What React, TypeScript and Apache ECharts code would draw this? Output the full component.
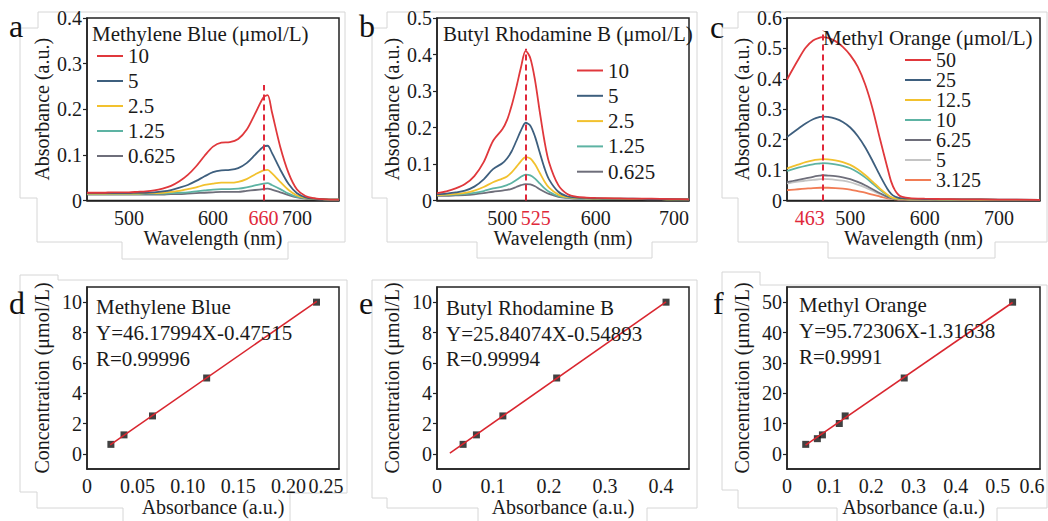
import React, { useEffect, useRef } from 'react';
import * as echarts from 'echarts';

const FONT = 'Liberation Serif';
const INK = '#1a1a1a';
const C_RED = '#e0383c';
const C_BLUE = '#3e5f7e';
const C_YEL = '#f2c12e';
const C_TEAL = '#5db3a3';
const C_GRAY = '#6e6e7a';
const C_LGRAY = '#c4c4c4';
const C_ORANGE = '#f17c55';
const C_DASH = '#e0283a';
const C_FIT = '#d9262f';

// ---------- panel a : Methylene Blue spectra ----------
const wlA = [450, 460, 470, 480, 490, 500, 510, 520, 530, 540, 550, 560, 570, 580, 590, 600, 610, 620, 630, 640, 650, 660, 665, 670, 680, 690, 700, 710, 720, 730, 740, 750];
const absA10 = [0.017, 0.017, 0.017, 0.018, 0.018, 0.018, 0.019, 0.020, 0.022, 0.026, 0.032, 0.042, 0.056, 0.075, 0.098, 0.118, 0.127, 0.128, 0.135, 0.155, 0.190, 0.226, 0.231, 0.195, 0.118, 0.060, 0.024, 0.010, 0.005, 0.003, 0.002, 0.002];
const absA5 = [0.016, 0.016, 0.016, 0.016, 0.016, 0.016, 0.017, 0.017, 0.018, 0.020, 0.023, 0.028, 0.034, 0.043, 0.053, 0.062, 0.066, 0.067, 0.071, 0.082, 0.100, 0.118, 0.120, 0.105, 0.068, 0.036, 0.016, 0.007, 0.004, 0.003, 0.002, 0.002];
const absA25 = [0.015, 0.015, 0.015, 0.015, 0.015, 0.015, 0.015, 0.016, 0.016, 0.017, 0.019, 0.021, 0.025, 0.029, 0.034, 0.037, 0.039, 0.039, 0.041, 0.047, 0.057, 0.066, 0.067, 0.060, 0.041, 0.023, 0.011, 0.006, 0.004, 0.003, 0.002, 0.002];
const absA125 = [0.014, 0.014, 0.014, 0.014, 0.014, 0.014, 0.014, 0.015, 0.015, 0.015, 0.016, 0.017, 0.018, 0.020, 0.022, 0.024, 0.025, 0.025, 0.026, 0.029, 0.033, 0.037, 0.038, 0.034, 0.025, 0.015, 0.008, 0.005, 0.003, 0.003, 0.002, 0.002];
const absA0625 = [0.013, 0.013, 0.013, 0.013, 0.013, 0.013, 0.013, 0.013, 0.013, 0.013, 0.014, 0.014, 0.015, 0.016, 0.017, 0.018, 0.019, 0.019, 0.019, 0.021, 0.023, 0.025, 0.026, 0.024, 0.018, 0.012, 0.007, 0.004, 0.003, 0.002, 0.002, 0.002];
const peakA = 660;
const dashTopA = 0.253;
const labelsA = ['10', '5', '2.5', '1.25', '0.625'];

// ---------- panel b : Butyl Rhodamine B spectra ----------
const wlB = [430, 440, 450, 460, 470, 480, 490, 500, 505, 510, 515, 520, 525, 530, 535, 540, 545, 550, 560, 570, 580, 590, 600, 620, 640, 660, 680, 700];
const absB10 = [0.020, 0.025, 0.033, 0.045, 0.067, 0.105, 0.163, 0.195, 0.220, 0.260, 0.310, 0.365, 0.410, 0.390, 0.330, 0.245, 0.165, 0.105, 0.042, 0.017, 0.010, 0.008, 0.007, 0.006, 0.005, 0.005, 0.004, 0.003];
const absB5 = [0.017, 0.019, 0.022, 0.027, 0.038, 0.058, 0.086, 0.102, 0.115, 0.135, 0.163, 0.192, 0.213, 0.205, 0.175, 0.132, 0.090, 0.058, 0.024, 0.011, 0.008, 0.007, 0.006, 0.005, 0.005, 0.004, 0.004, 0.003];
const absB25 = [0.015, 0.016, 0.018, 0.021, 0.027, 0.037, 0.050, 0.060, 0.066, 0.077, 0.092, 0.108, 0.119, 0.115, 0.099, 0.076, 0.053, 0.035, 0.016, 0.009, 0.007, 0.006, 0.005, 0.005, 0.004, 0.004, 0.003, 0.003];
const absB125 = [0.014, 0.015, 0.016, 0.018, 0.021, 0.026, 0.033, 0.038, 0.042, 0.048, 0.056, 0.065, 0.071, 0.069, 0.060, 0.047, 0.034, 0.024, 0.012, 0.008, 0.006, 0.005, 0.005, 0.004, 0.004, 0.004, 0.003, 0.003];
const absB0625 = [0.013, 0.013, 0.014, 0.015, 0.017, 0.020, 0.024, 0.027, 0.029, 0.032, 0.037, 0.042, 0.045, 0.044, 0.039, 0.031, 0.024, 0.018, 0.010, 0.007, 0.005, 0.005, 0.004, 0.004, 0.004, 0.003, 0.003, 0.003];
const peakB = 525;
const dashTopB = 0.416;
const labelsB = ['10', '5', '2.5', '1.25', '0.625'];

// ---------- panel c : Methyl Orange spectra ----------
const wlC = [415, 420, 430, 440, 450, 460, 463, 470, 480, 490, 500, 510, 520, 530, 540, 550, 555, 560, 565, 570, 580, 600, 620, 650, 700, 755];
const absC50 = [0.397, 0.420, 0.463, 0.502, 0.526, 0.536, 0.537, 0.535, 0.524, 0.505, 0.478, 0.440, 0.382, 0.302, 0.202, 0.107, 0.062, 0.034, 0.018, 0.012, 0.008, 0.006, 0.005, 0.004, 0.003, 0.002];
const absC25 = [0.209, 0.218, 0.236, 0.253, 0.267, 0.275, 0.276, 0.275, 0.269, 0.258, 0.240, 0.212, 0.175, 0.130, 0.082, 0.038, 0.022, 0.013, 0.009, 0.007, 0.006, 0.005, 0.004, 0.004, 0.003, 0.002];
const absC125 = [0.105, 0.110, 0.118, 0.126, 0.132, 0.135, 0.136, 0.135, 0.132, 0.126, 0.117, 0.103, 0.084, 0.062, 0.039, 0.019, 0.011, 0.007, 0.006, 0.005, 0.004, 0.004, 0.003, 0.003, 0.002, 0.002];
const absC10 = [0.097, 0.101, 0.108, 0.114, 0.119, 0.122, 0.123, 0.122, 0.119, 0.114, 0.106, 0.093, 0.076, 0.056, 0.035, 0.017, 0.010, 0.006, 0.005, 0.005, 0.004, 0.004, 0.003, 0.003, 0.002, 0.002];
const absC625 = [0.060, 0.063, 0.068, 0.073, 0.078, 0.082, 0.083, 0.082, 0.080, 0.076, 0.070, 0.061, 0.050, 0.037, 0.024, 0.012, 0.008, 0.005, 0.004, 0.004, 0.004, 0.003, 0.003, 0.003, 0.002, 0.002];
const absC5 = [0.056, 0.058, 0.062, 0.065, 0.068, 0.070, 0.071, 0.070, 0.068, 0.065, 0.060, 0.052, 0.043, 0.032, 0.021, 0.011, 0.007, 0.005, 0.004, 0.004, 0.003, 0.003, 0.003, 0.002, 0.002, 0.002];
const absC3125 = [0.034, 0.035, 0.037, 0.039, 0.041, 0.042, 0.042, 0.042, 0.041, 0.039, 0.036, 0.031, 0.026, 0.019, 0.013, 0.007, 0.005, 0.004, 0.003, 0.003, 0.003, 0.003, 0.002, 0.002, 0.002, 0.002];
const peakC = 463;
const dashTopC = 0.56;
const labelsC = ['50', '25', '12.5', '10', '6.25', '5', '3.125'];

// ---------- calibration panels d, e, f ----------
const absD = [0.0237, 0.0367, 0.065, 0.1187, 0.2277];
const concD = [0.625, 1.25, 2.5, 5, 10];
const fitD = [[0.023, 0.587], [0.228, 10.054]];
const absE = [0.0466, 0.0704, 0.1176, 0.2137, 0.409];
const concE = [0.625, 1.25, 2.5, 5, 10];
const fitE = [[0.023, 0.045], [0.409, 10.02]];
const absF = [0.0444, 0.072, 0.084, 0.124, 0.138, 0.278, 0.535];
const concF = [3.125, 5, 6.25, 10, 12.5, 25, 50];
const fitF = [[0.044, 2.9], [0.535, 49.9]];

const textD = ['Methylene Blue', 'Y=46.17994X-0.47515', 'R=0.99996'];
const textE = ['Butyl Rhodamine B', 'Y=25.84074X-0.54893', 'R=0.99994'];
const textF = ['Methyl Orange', 'Y=95.72306X-1.31638', 'R=0.9991'];

const xTicksA = [500, 600, 660, 700];
const xTicksB = [500, 525, 600, 700];
const xTicksC = [463, 500, 600, 700];
const xTicksD = [0, 0.05, 0.1, 0.15, 0.2, 0.25];
const xTicksE = [0, 0.1, 0.2, 0.3, 0.4];
const xTicksF = [0, 0.1, 0.2, 0.3, 0.4, 0.5, 0.6];
const yTicksDE = [0, 2, 4, 6, 8, 10];
const yTicksF = [0, 10, 20, 30, 40, 50];

const zip = (xs: number[], ys: number[]) => xs.map((x, i) => [x, ys[i]]);

function buildOption() {
  const gridBase = { show: true, borderColor: '#222', borderWidth: 1.5, backgroundColor: 'transparent' };
  const grid = [
    { left: 87, top: 18, width: 252, height: 182.5 },
    { left: 437, top: 18, width: 252, height: 182.5 },
    { left: 787, top: 18, width: 253, height: 182.5 },
    { left: 87, top: 287, width: 252, height: 182 },
    { left: 437, top: 287, width: 252, height: 182 },
    { left: 787, top: 287, width: 253, height: 182 },
  ].map((g) => ({ ...gridBase, ...g }));

  const rich = {
    r: { color: C_DASH, fontSize: 20, fontFamily: FONT },
    rR: { color: C_DASH, fontSize: 20, fontFamily: FONT, padding: [0, 0, 0, 20] },
    rL: { color: C_DASH, fontSize: 20, fontFamily: FONT, padding: [0, 26, 0, 0] },
    s30: { color: INK, fontSize: 20, fontFamily: FONT, padding: [0, 30, 0, 0] },
    s26: { color: INK, fontSize: 20, fontFamily: FONT, padding: [0, 26, 0, 0] },
    s16: { color: INK, fontSize: 20, fontFamily: FONT, padding: [0, 16, 0, 0] },
  };

  const xBase = (i: number, min: number, max: number, ticks: number[], fmt: (v: number) => string, name: string) => ({
    type: 'value',
    gridIndex: i,
    min,
    max,
    name,
    nameLocation: 'middle',
    nameGap: 27.5,
    nameTextStyle: { color: INK, fontSize: 20, fontFamily: FONT },
    splitLine: { show: false },
    axisTick: { show: false },
    axisLine: { show: true, onZero: false, lineStyle: { color: '#222', width: 1.5 } },
    axisLabel: { color: INK, fontSize: 20, fontFamily: FONT, margin: 7, customValues: ticks, formatter: fmt, rich },
  });

  const yBase = (i: number, min: number, max: number, name: string, extra: any) => ({
    type: 'value',
    gridIndex: i,
    min,
    max,
    name,
    nameLocation: 'middle',
    nameGap: 35,
    nameTextStyle: { color: INK, fontSize: 20, fontFamily: FONT },
    splitLine: { show: false },
    axisLine: { show: true, onZero: false, lineStyle: { color: '#222', width: 1.5 } },
    axisTick: { show: true, inside: false, length: 4, lineStyle: { color: '#222', width: 1.2 }, ...(extra.tick || {}) },
    axisLabel: { color: INK, fontSize: 20, fontFamily: FONT, margin: 5, ...(extra.label || {}) },
    ...(extra.axis || {}),
  });

  const wlName = 'Wavelength (nm)';
  const absName = 'Absorbance (a.u.)';
  const concName = 'Concentration (μmol/L)';

  const xAxis = [
    xBase(0, 450, 750, xTicksA, (v) => (v === peakA ? `{r|${v}}` : String(v)), wlName),
    xBase(1, 430, 700, xTicksB, (v) => (v === peakB ? `{rR|${v}}` : v === 700 ? `{s30|${v}}` : String(v)), wlName),
    xBase(2, 415, 755, xTicksC, (v) => (v === peakC ? `{rL|${v}}` : String(v)), wlName),
    xBase(3, 0, 0.25, xTicksD, (v) => (v === 0 ? '0' : v === 0.25 ? `{s26|${v.toFixed(2)}}` : v.toFixed(2)), 'Absorbance (a.u.)'),
    xBase(4, 0, 0.45, xTicksE, (v) => (v === 0 ? '0' : String(v)), 'Absorbance (a.u.)'),
    xBase(5, 0, 0.6, xTicksF, (v) => (v === 0 ? '0' : v === 0.6 ? `{s16|${v}}` : String(v)), 'Absorbance (a.u.)'),
  ];

  const yAxis = [
    yBase(0, 0, 0.4, absName, { axis: { interval: 0.1 } }),
    yBase(1, 0, 0.5, absName, { axis: { interval: 0.1 } }),
    yBase(2, 0, 0.6, absName, { axis: { interval: 0.1 } }),
    yBase(3, -1, 11, concName, { label: { customValues: yTicksDE }, tick: { customValues: yTicksDE } }),
    yBase(4, -1, 11, concName, { label: { customValues: yTicksDE }, tick: { customValues: yTicksDE } }),
    yBase(5, -5, 55, concName, { label: { customValues: yTicksF }, tick: { customValues: yTicksF } }),
  ];

  const spec = (panel: string, idx: number, label: string, wl: number[], vals: number[], color: string, mark?: [number, number]) => ({
    type: 'line',
    name: `${panel}:${label}`,
    xAxisIndex: idx,
    yAxisIndex: idx,
    data: zip(wl, vals),
    showSymbol: false,
    symbol: 'none',
    smooth: 0.3,
    color,
    lineStyle: { color, width: 1.8 },
    ...(mark
      ? {
          markLine: {
            silent: true,
            symbol: ['none', 'none'],
            label: { show: false },
            lineStyle: { color: C_DASH, type: [6, 4], width: 2 },
            data: [[{ coord: [mark[0], 0] }, { coord: [mark[0], mark[1]] }]],
          },
        }
      : {}),
  });

  const series: any[] = [
    spec('a', 0, '0.625', wlA, absA0625, C_GRAY),
    spec('a', 0, '1.25', wlA, absA125, C_TEAL),
    spec('a', 0, '2.5', wlA, absA25, C_YEL),
    spec('a', 0, '5', wlA, absA5, C_BLUE),
    spec('a', 0, '10', wlA, absA10, C_RED, [peakA, dashTopA]),

    spec('b', 1, '0.625', wlB, absB0625, C_GRAY),
    spec('b', 1, '1.25', wlB, absB125, C_TEAL),
    spec('b', 1, '2.5', wlB, absB25, C_YEL),
    spec('b', 1, '5', wlB, absB5, C_BLUE),
    spec('b', 1, '10', wlB, absB10, C_RED, [peakB, dashTopB]),

    spec('c', 2, '3.125', wlC, absC3125, C_ORANGE),
    spec('c', 2, '5', wlC, absC5, C_LGRAY),
    spec('c', 2, '6.25', wlC, absC625, C_GRAY),
    spec('c', 2, '10', wlC, absC10, C_TEAL),
    spec('c', 2, '12.5', wlC, absC125, C_YEL),
    spec('c', 2, '25', wlC, absC25, C_BLUE),
    spec('c', 2, '50', wlC, absC50, C_RED, [peakC, dashTopC]),
  ];

  const calib = (idx: number, xs: number[], ys: number[], fit: number[][]) => [
    {
      type: 'line',
      name: `fit${idx}`,
      xAxisIndex: idx,
      yAxisIndex: idx,
      data: fit,
      showSymbol: false,
      symbol: 'none',
      lineStyle: { color: C_FIT, width: 1.6 },
      color: C_FIT,
    },
    {
      type: 'scatter',
      name: `pts${idx}`,
      xAxisIndex: idx,
      yAxisIndex: idx,
      data: zip(xs, ys),
      symbol: 'rect',
      symbolSize: 7,
      itemStyle: { color: '#111' },
    },
  ];
  series.push(...calib(3, absD, concD, fitD), ...calib(4, absE, concE, fitE), ...calib(5, absF, concF, fitF));

  const legBase = {
    orient: 'vertical',
    icon: 'rect',
    itemWidth: 26,
    itemHeight: 2,
    padding: 0,
    selectedMode: false,
    formatter: (n: string) => n.split(':')[1],
  };
  const legend = [
    { ...legBase, data: labelsA.map((l) => `a:${l}`), left: 97, top: 45.5, itemGap: 4, textStyle: { fontSize: 21, fontFamily: FONT, color: INK, lineHeight: 21 } },
    { ...legBase, data: labelsB.map((l) => `b:${l}`), left: 577, top: 60, itemGap: 4.3, textStyle: { fontSize: 21, fontFamily: FONT, color: INK, lineHeight: 21 } },
    { ...legBase, data: labelsC.map((l) => `c:${l}`), left: 905, top: 50, itemGap: 0, textStyle: { fontSize: 20, fontFamily: FONT, color: INK, lineHeight: 19.5 } },
  ];

  const txt = (text: string, x: number, y: number, size: number, extra: any = {}) => ({
    type: 'text',
    x,
    y,
    z: 20,
    style: { text, fontSize: size, fontFamily: FONT, fill: INK, align: 'left', verticalAlign: 'middle', ...extra },
  });

  const outline = (pts: number[][]) => ({
    type: 'polyline',
    z: -5,
    silent: true,
    shape: { points: pts },
    style: { stroke: '#d6d6d6', lineWidth: 1, fill: null },
  });

  const graphic = [
    outline([[38, 28], [38, 12], [345, 12], [345, 242], [288, 242], [288, 259], [122, 259], [122, 242], [37, 242], [37, 198], [20, 198], [20, 28], [38, 28]]),
    outline([[387, 28], [387, 12], [697, 12], [697, 242], [652, 242], [652, 258], [477, 258], [477, 242], [387, 242], [387, 198], [372, 198], [372, 28], [387, 28]]),
    outline([[738, 28], [738, 12], [1047, 12], [1047, 242], [995, 242], [995, 258], [828, 258], [828, 242], [738, 242], [738, 198], [722, 198], [722, 28], [738, 28]]),
    outline([[123, 521], [123, 508], [37, 508], [37, 492], [20, 492], [20, 275], [58, 275], [58, 280], [347, 280], [347, 493], [290, 493], [290, 521]]),
    outline([[478, 521], [478, 508], [387, 508], [387, 498], [372, 498], [372, 280], [697, 280], [697, 508], [647, 508], [647, 521]]),
    outline([[837, 521], [837, 508], [738, 508], [738, 490], [722, 490], [722, 272], [760, 272], [760, 285], [1047, 285], [1047, 508], [997, 508], [997, 521]]),

    txt('a', 9, 26, 32, { fill: '#111' }),
    txt('b', 359, 26, 32, { fill: '#111' }),
    txt('c', 710, 27, 32, { fill: '#111' }),
    txt('d', 9, 302.5, 32, { fill: '#111' }),
    txt('e', 359, 303, 32, { fill: '#111' }),
    txt('f', 713, 302.5, 32, { fill: '#111' }),

    txt('Methylene Blue (μmol/L)', 92, 33.5, 21),
    txt('Butyl Rhodamine B (μmol/L)', 443, 33.5, 21),
    txt('Methyl Orange (μmol/L)', 823, 38, 21),

    ...textD.map((t, i) => txt(t, 96, 306.5 + i * 26.3, 21)),
    ...textE.map((t, i) => txt(t, 446, 308 + i * 25.5, 21)),
    ...textF.map((t, i) => txt(t, 799, 305 + i * 26, 21)),
  ];

  return {
    animation: false,
    backgroundColor: '#ffffff',
    textStyle: { fontFamily: FONT },
    grid,
    xAxis,
    yAxis,
    legend,
    series,
    graphic,
  };
}

export default function App() {
  const ref = useRef<HTMLDivElement>(null);
  useEffect(() => {
    document.body.style.margin = '0';
    const chart = echarts.init(ref.current as HTMLDivElement, null, { renderer: 'svg' });
    chart.setOption(buildOption() as any);
    return () => chart.dispose();
  }, []);
  return <div ref={ref} style={{ width: 1048, height: 521 }} />;
}
